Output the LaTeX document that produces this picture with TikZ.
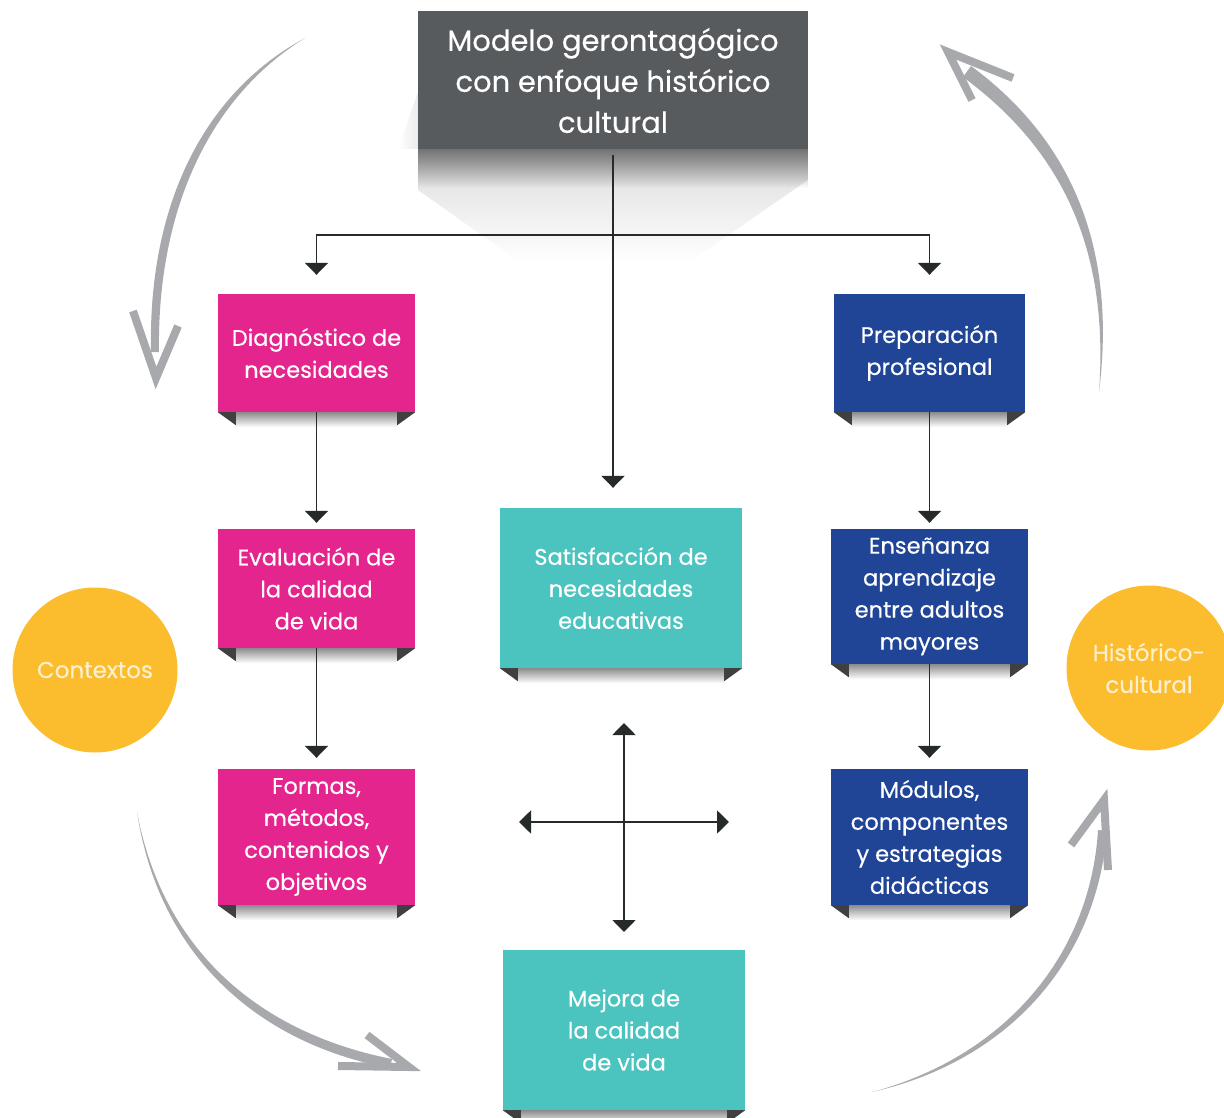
\documentclass[tikz,border=0pt]{standalone}
\usepackage{fontspec}
\setmainfont{Poppins}[FakeBold=0.4]
\usetikzlibrary{arrows.meta,positioning,fadings}
\definecolor{rosa}{RGB}{229,37,142}
\definecolor{azul}{RGB}{32,68,150}
\definecolor{turquesa}{RGB}{75,195,191}
\definecolor{amarillo}{RGB}{251,188,45}
\definecolor{grisosc}{RGB}{87,91,94}
\definecolor{grisflecha}{RGB}{167,169,172}
\definecolor{negro}{RGB}{38,42,43}
\definecolor{crema}{RGB}{255,240,205}
\tikzset{
  caja/.style={rectangle, inner sep=0pt, text=white, align=center,
    font=\fontsize{22.5}{32}\selectfont},
  titulo/.style={caja, fill=grisosc, minimum width=390pt, minimum height=138pt,
    font=\fontsize{29}{41}\selectfont},
  circulo/.style={circle, fill=amarillo, minimum size=165pt, inner sep=0pt,
    text=crema, align=center, font=\fontsize{23}{32}\selectfont},
  flecha/.style={negro, line width=1.8pt, ->},
  curva/.style={grisflecha, line width=8pt, line join=miter}
}
% cinta bajo cada caja
\newcommand{\cinta}[1]{%
  \shade[top color=black!45, bottom color=white] ([xshift=18pt]#1.south west) rectangle ([xshift=-18pt,yshift=-15pt]#1.south east);
  \fill[black!75] (#1.south west) -- ([xshift=18pt]#1.south west) -- ([xshift=18pt,yshift=-13pt]#1.south west) -- cycle;
  \fill[black!75] (#1.south east) -- ([xshift=-18pt]#1.south east) -- ([xshift=-18pt,yshift=-13pt]#1.south east) -- cycle;
}
\begin{document}
\begin{tikzpicture}[x=1pt,y=-1pt,>={Triangle[width=23pt,length=12pt]}]
\useasboundingbox (0,0) rectangle (1224,1118);
% sombra del titulo
\fill[black!8, path fading=west] (398,149) -- (418,92) -- (418,149) -- cycle;
\fill[black!14, path fading=south] (418,149) -- (808,149) -- (808,180) -- (690,262) -- (520,262) -- (418,190) -- cycle;
\fill[black!55, path fading=south] (418,149) rectangle (808,188);
\node[titulo] (modelo) at (613,80.5) {Modelo gerontagógico\\con enfoque histórico\\cultural};

% columna izquierda
\node[caja, fill=rosa, minimum width=197pt, minimum height=118pt] (diag) at (316.5,353) {Diagnóstico de\\necesidades};
\node[caja, fill=rosa, minimum width=197pt, minimum height=119pt] (eval) at (316.5,588.5) {Evaluación de\\la calidad\\de vida};
\node[caja, fill=rosa, minimum width=197pt, minimum height=136pt] (formas) at (316.5,837) {Formas,\\métodos,\\contenidos y\\objetivos};
% columna derecha
\node[caja, fill=azul, minimum width=191pt, minimum height=118pt] (prep) at (929.5,353) {Preparación\\profesional};
\node[caja, fill=azul, minimum width=197pt, minimum height=135pt] (ense) at (929.5,596.5) {Enseñanza\\aprendizaje\\entre adultos\\mayores};
\node[caja, fill=azul, minimum width=197pt, minimum height=136pt] (modulos) at (929.5,837) {Módulos,\\componentes\\y estrategias\\didácticas};
% centro
\node[caja, fill=turquesa, minimum width=242pt, minimum height=160pt] (satis) at (621,588) {Satisfacción de\\necesidades\\educativas};
\node[caja, fill=turquesa, minimum width=242pt, minimum height=160pt] (mejora) at (624,1030) {Mejora de\\la calidad\\de vida};
\foreach \c in {diag,eval,formas,prep,ense,modulos,satis,mejora} {\cinta{\c}}

% circulos
\node[circulo] (contextos) at (95,670) {Contextos};
\node[circulo] (historico) at (1149,668) {Histórico-\\cultural};

% conexiones
\coordinate (rama) at (613,235);
\draw[flecha, shorten >=20pt] ([yshift=-5pt]modelo.south) -- (modelo.south |- satis.north);
\draw[flecha, shorten >=19pt] (rama) -| (diag.north);
\draw[flecha, shorten >=19pt] (rama) -| (prep.north);
\draw[flecha, shorten >=6pt] (diag.south) -- (eval.north);
\draw[flecha, shorten >=11pt] (eval.south) -- (formas.north);
\draw[flecha, shorten >=6pt] (prep.south) -- (ense.north);
\draw[flecha, shorten >=11pt] (ense.south) -- (modulos.north);

% cruz
\coordinate (cruz) at (624,822);
\coordinate (arriba) at (624,723);
\coordinate (abajo) at (624,932);
\coordinate (izq) at (519,822);
\coordinate (der) at (729,822);
\draw[flecha, <->] (arriba) -- (abajo);
\draw[flecha, <->] (izq) -- (der);

% flechas curvas
\fill[grisflecha] (305,38) .. controls (200,95) and (148,210) .. (151,352) -- (159,352) .. controls (157,212) and (208,98) .. (305,38) -- cycle;
\draw[curva] (133,311) -- (156,378) -- (178,326);
\fill[grisflecha] (1099,392) .. controls (1118,240) and (1066,136) .. (971,66) -- (963,77) .. controls (1055,145) and (1110,240) .. (1099,392) -- cycle;
\draw[curva] (972,100) -- (948,52) -- (1013,78);
\fill[grisflecha] (137,812) .. controls (165,960) and (270,1035) .. (392,1059) -- (390,1068) .. controls (265,1045) and (160,962) .. (137,812) -- cycle;
\draw[curva] (367,1035) -- (409,1067) -- (338,1066);
\fill[grisflecha] (872,1092) .. controls (1000,1058) and (1090,960) .. (1098,830) -- (1107,831) .. controls (1096,965) and (1005,1062) .. (872,1092) -- cycle;
\draw[curva] (1071,845) -- (1104,800) -- (1108,870);
\end{tikzpicture}
\end{document}
